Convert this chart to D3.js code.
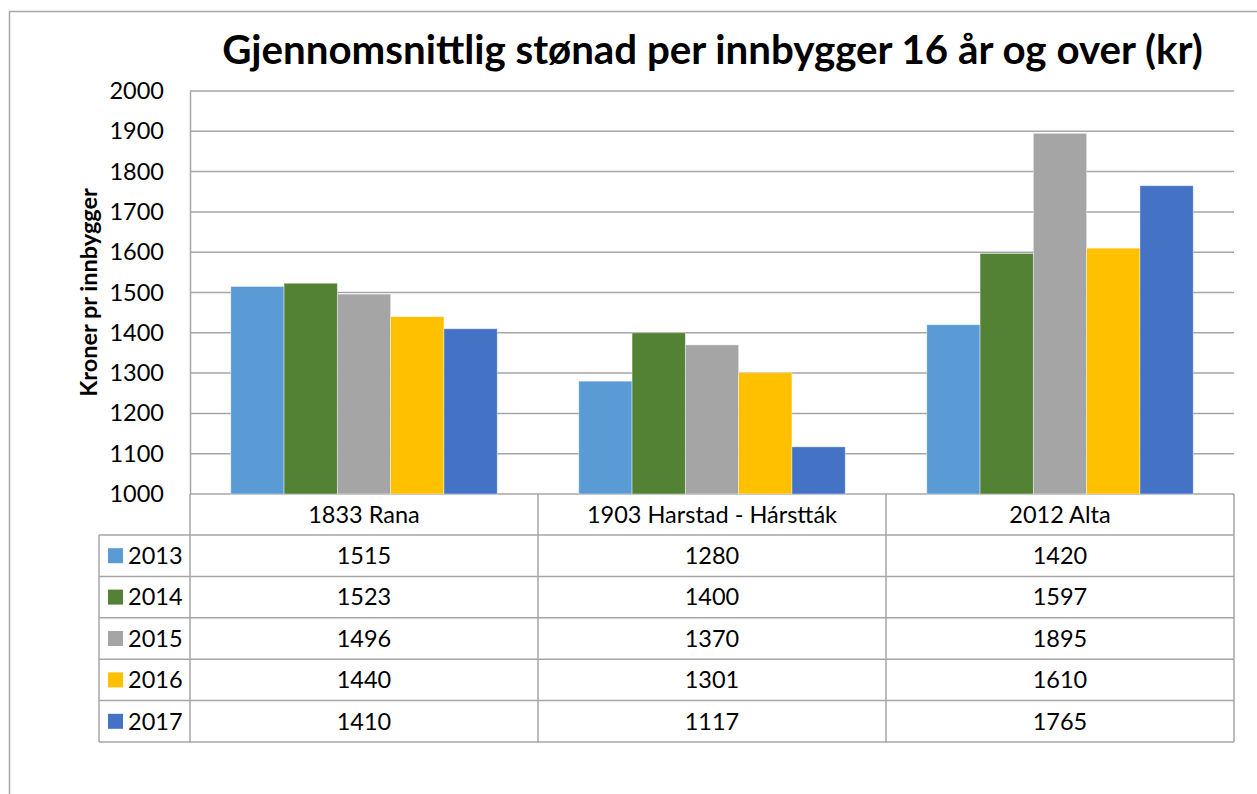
<!DOCTYPE html>
<html>
<head>
<meta charset="utf-8">
<script src="https://cdn.jsdelivr.net/npm/d3@7"></script>
<style>
  body { margin: 0; background: #fff; }
  text { font-family: Lato, "Open Sans", sans-serif; fill: #000; }
</style>
</head>
<body>
<div class="chart"></div>
<script>
const categories = ["1833 Rana", "1903 Harstad - Hárstták", "2012 Alta"]
const years = ["2013", "2014", "2015", "2016", "2017"]
const values2013 = [1515, 1280, 1420]
const values2014 = [1523, 1400, 1597]
const values2015 = [1496, 1370, 1895]
const values2016 = [1440, 1301, 1610]
const values2017 = [1410, 1117, 1765]
const yTicks = [1000, 1100, 1200, 1300, 1400, 1500, 1600, 1700, 1800, 1900, 2000]
const colors = ["#5b9bd5", "#548235", "#a5a5a5", "#ffc000", "#4472c4"]

const series = [values2013, values2014, values2015, values2016, values2017]
  .map((vals, i) => ({year: years[i], color: colors[i], values: vals}))

const W = 1257, H = 794
const plot = {left: 190, right: 1234, top: 91, bottom: 494}
const tableBottom = 742
const headerH = 41
const legendLeft = 99
const fontSize = "23.5px"

const svg = d3.select(".chart").append("svg")
  .attr("width", W).attr("height", H)

// outer chart border
svg.append("rect")
  .attr("x", 9.5).attr("y", 11.5)
  .attr("width", W + 10).attr("height", H + 10)
  .attr("fill", "none").attr("stroke", "#a6a6a6").attr("stroke-width", 1.5)

// title, fit to width
const title = svg.append("text")
  .attr("x", (222 + 1203) / 2).attr("y", 64)
  .attr("text-anchor", "middle")
  .style("font-weight", "bold")
  .style("font-size", "36px")
  .text("Gjennomsnittlig stønad per innbygger 16 år og over (kr)")
const tw = title.node().getComputedTextLength()
title.style("font-size", (36 * 981 / tw).toFixed(2) + "px")

const y = d3.scaleLinear().domain([1000, 2000]).range([plot.bottom, plot.top])
const x0 = d3.scaleBand().domain(categories).range([plot.left, plot.right])
const x1 = d3.scaleBand().domain(years).range([0, x0.bandwidth()])
  .paddingInner(0).paddingOuter(0.765)

// gridlines
svg.append("g")
  .selectAll("line")
  .data(yTicks)
  .join("line")
  .attr("x1", plot.left).attr("x2", plot.right)
  .attr("y1", d => y(d)).attr("y2", d => y(d))
  .attr("stroke", "#a6a6a6").attr("stroke-width", 1.5)

// y axis
const yAxis = d3.axisLeft(y).tickValues(yTicks).tickFormat(d3.format("d"))
  .tickSize(0).tickPadding(26)
svg.append("g")
  .attr("transform", "translate(" + plot.left + ",0)")
  .call(yAxis)
  .call(g => g.select(".domain").attr("stroke", "#a6a6a6").attr("stroke-width", 1.5))
  .selectAll("text")
  .style("font-size", fontSize)
  .style("font-family", "Lato, sans-serif")
  .attr("fill", "#000")

// bars
svg.append("g")
  .selectAll("g")
  .data(series)
  .join("g")
  .attr("fill", d => d.color)
  .selectAll("rect")
  .data(d => d.values.map((v, i) => ({year: d.year, cat: categories[i], value: v})))
  .join("rect")
  .attr("x", d => x0(d.cat) + x1(d.year))
  .attr("width", x1.bandwidth())
  .attr("y", d => y(d.value))
  .attr("height", d => y(1000) - y(d.value))
  .attr("stroke", "#fff").attr("stroke-opacity", 0.5).attr("stroke-width", 0.8)

// y axis title
svg.append("text")
  .attr("transform", "translate(97," + ((plot.top + plot.bottom) / 2) + ") rotate(-90)")
  .attr("text-anchor", "middle")
  .style("font-weight", "bold")
  .style("font-size", "23.5px")
  .text("Kroner pr innbygger")

// data table
const rows = d3.scaleBand().domain(years)
  .range([plot.bottom + headerH, tableBottom])
const table = svg.append("g")
const lineStyle = sel => sel.attr("stroke", "#a6a6a6").attr("stroke-width", 1.5).attr("fill", "none")

// horizontal lines
table.selectAll("line.h")
  .data(years)
  .join("line").attr("class", "h")
  .attr("x1", legendLeft).attr("x2", plot.right)
  .attr("y1", d => rows(d)).attr("y2", d => rows(d))
  .call(lineStyle)
table.append("line")
  .attr("x1", legendLeft).attr("x2", plot.right)
  .attr("y1", tableBottom).attr("y2", tableBottom)
  .call(lineStyle)

// vertical lines
const vx = categories.map(c => x0(c)).concat([plot.right])
table.selectAll("line.v")
  .data(vx)
  .join("line").attr("class", "v")
  .attr("x1", d => d).attr("x2", d => d)
  .attr("y1", plot.bottom).attr("y2", tableBottom)
  .call(lineStyle)
table.append("line")
  .attr("x1", legendLeft).attr("x2", legendLeft)
  .attr("y1", plot.bottom + headerH).attr("y2", tableBottom)
  .call(lineStyle)

// category header
table.selectAll("text.cat")
  .data(categories)
  .join("text").attr("class", "cat")
  .attr("x", d => x0(d) + x0.bandwidth() / 2)
  .attr("y", plot.bottom + headerH / 2)
  .attr("dy", "0.35em")
  .attr("text-anchor", "middle")
  .style("font-size", fontSize)
  .text(d => d)

// legend keys and values
const rowG = table.selectAll("g.row")
  .data(series)
  .join("g").attr("class", "row")
  .attr("transform", d => "translate(0," + (rows(d.year) + rows.bandwidth() / 2) + ")")

rowG.append("rect")
  .attr("x", 108).attr("y", -7.5)
  .attr("width", 15).attr("height", 15)
  .attr("fill", d => d.color)

rowG.append("text")
  .attr("x", 128).attr("dy", "0.35em")
  .style("font-size", fontSize)
  .text(d => d.year)

rowG.selectAll("text.val")
  .data(d => d.values.map((v, i) => ({cat: categories[i], value: v})))
  .join("text").attr("class", "val")
  .attr("x", d => x0(d.cat) + x0.bandwidth() / 2)
  .attr("dy", "0.35em")
  .attr("text-anchor", "middle")
  .style("font-size", fontSize)
  .text(d => d.value)
</script>
</body>
</html>
